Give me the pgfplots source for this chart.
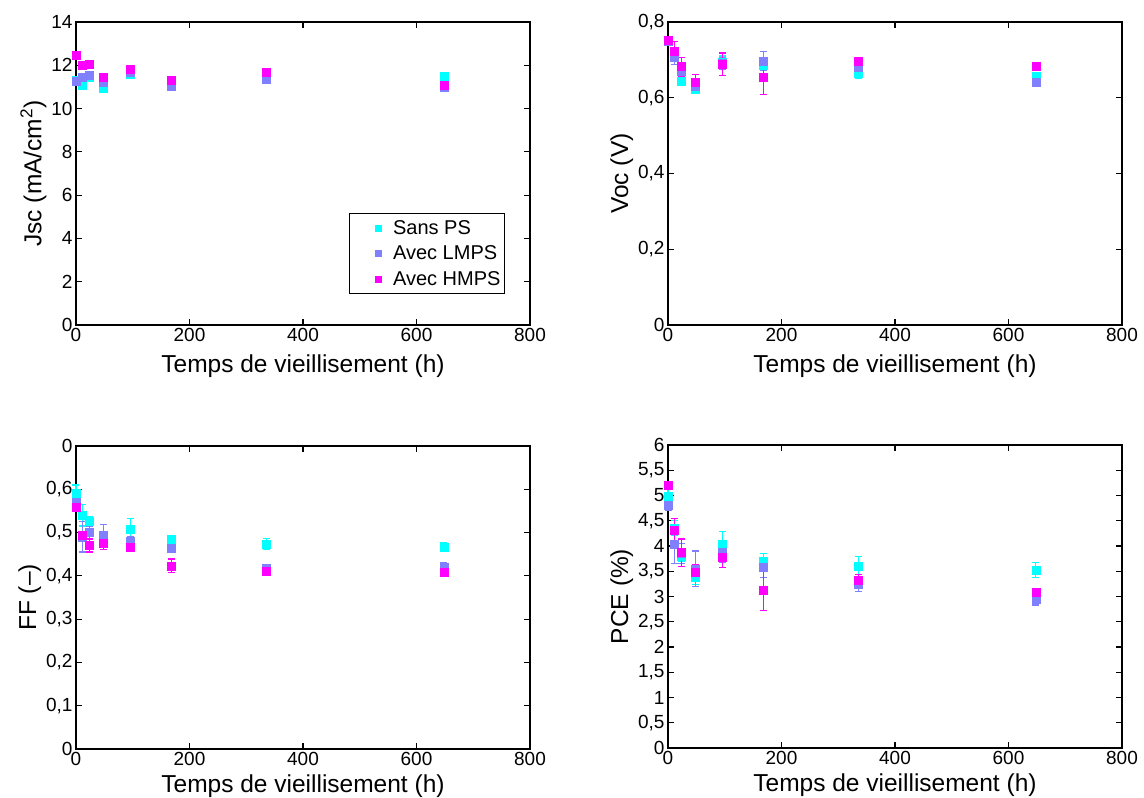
\documentclass[border=0pt]{standalone}
\usepackage{pgfplots}
\pgfplotsset{compat=1.18}
\usepackage{fontspec}
\setmainfont{Liberation Sans}
\definecolor{cSans}{rgb}{0,1,1}
\definecolor{cLMPS}{rgb}{0.5,0.5,1}
\definecolor{cHMPS}{rgb}{1,0,1}
\pgfplotsset{
  mystyle/.style={
    scale only axis, width=454pt, height=303pt,
    xmin=0, xmax=800, xtick={0,200,...,800},
    tick align=inside, major tick length=6pt,
    axis line style={line width=1.5pt},
    every tick/.style={line width=1.2pt, black},
    clip=false,
    tick label style={font=\fontsize{19}{19}\selectfont},
    label style={font=\fontsize{24.5}{24.5}\selectfont},
    /pgf/number format/use comma,
    /pgf/number format/assume math mode=true,
    xlabel={Temps de vieillisement (h)},
    xlabel style={yshift=-6pt},
    ylabel style={yshift=-2pt},
    every axis plot/.append style={only marks, mark=square*, mark size=4pt,
      legend image code/.code={\path[draw=none,fill=none] (-27pt,0) -- (13pt,0); \fill plot[mark size=3pt] coordinates {(0pt,0pt)};},
      error bars/y dir=both, error bars/y explicit,
      error bars/error bar style={line width=1.2pt},
      error bars/error mark options={mark size=3.5pt, line width=1.2pt, rotate=90}},
  },
  botstyle/.style={xlabel style={yshift=4.5pt}}
}
\begin{document}
\begin{tikzpicture}
\useasboundingbox (0,0) rectangle (1144pt,-798pt);
% Jsc
\begin{axis}[mystyle, at={(76pt,-22pt)}, anchor=north west,
  ymin=0, ymax=14, ytick={0,2,...,14},
  ylabel={Jsc (mA/cm\textsuperscript{2})},
  legend style={at={(0.945,0.37)}, anchor=north east, draw=black, line width=1pt,
    font=\fontsize{20}{20}\selectfont, row sep=6pt, inner xsep=2pt, inner ysep=5pt},
  legend cell align=left]
\addplot[color=cSans] table[y error=e]{
x y e
0 11.3 0.1
11 11.1 0.15
24 11.45 0.1
48 10.95 0.2
96 11.6 0.1
168 11.15 0.1
336 11.5 0.1
648 11.5 0.1
};
\addplot[color=cLMPS] table[y error=e]{
x y e
0 11.25 0.1
11 11.45 0.1
24 11.55 0.1
48 11.22 0.1
96 11.7 0.1
168 11.05 0.1
336 11.37 0.1
648 11.0 0.1
};
\addplot[color=cHMPS] table[y error=e]{
x y e
0 12.45 0.05
11 12.0 0.05
24 12.05 0.05
48 11.45 0.1
96 11.8 0.1
168 11.3 0.1
336 11.7 0.1
648 11.1 0.05
};
\legend{Sans PS, Avec LMPS, Avec HMPS}
\end{axis}
% Voc
\begin{axis}[mystyle, at={(668pt,-22pt)}, anchor=north west,
  ymin=0, ymax=0.8, ytick={0,0.2,...,0.8},
  yticklabel style={/pgf/number format/fixed},
  ylabel={Voc (V)}]
\addplot[color=cSans] table[y error=e]{
x y e
0 0.75 0.005
11 0.715 0.01
24 0.645 0.01
48 0.622 0.01
96 0.695 0.015
168 0.685 0.02
336 0.665 0.015
648 0.656 0.01
};
\addplot[color=cLMPS] table[y error=e]{
x y e
0 0.748 0.005
11 0.708 0.02
24 0.669 0.02
48 0.63 0.01
96 0.69 0.015
168 0.697 0.025
336 0.68 0.01
648 0.642 0.01
};
\addplot[color=cHMPS] table[y error=e]{
x y e
0 0.752 0.005
11 0.723 0.025
24 0.682 0.025
48 0.641 0.02
96 0.688 0.03
168 0.654 0.045
336 0.697 0.005
648 0.684 0.005
};
\end{axis}
% FF
\begin{axis}[mystyle, botstyle, at={(76pt,-446pt)}, anchor=north west,
  ymin=0, ymax=0.7, ytick={0,0.1,0.2,0.3,0.4,0.5,0.6,0.7},
  yticklabels={0,{0,1},{0,2},{0,3},{0,4},{0,5},{0,6},0},
  ylabel={FF (--)}]
\addplot[color=cSans] table[y error=e]{
x y e
0 0.59 0.02
11 0.54 0.025
24 0.526 0.012
48 0.487 0.012
96 0.508 0.025
168 0.485 0.005
336 0.474 0.012
648 0.467 0.01
};
\addplot[color=cLMPS] table[y error=e]{
x y e
0 0.57 0.015
11 0.49 0.035
24 0.50 0.015
48 0.493 0.025
96 0.48 0.01
168 0.464 0.01
336 0.418 0.008
648 0.42 0.01
};
\addplot[color=cHMPS] table[y error=e]{
x y e
0 0.559 0.01
11 0.493 0.01
24 0.470 0.015
48 0.476 0.015
96 0.466 0.01
168 0.423 0.016
336 0.41 0.005
648 0.408 0.005
};
\end{axis}
% PCE
\begin{axis}[mystyle, botstyle, at={(668pt,-445pt)}, anchor=north west,
  ymin=0, ymax=6, ytick={0,0.5,...,6},
  ylabel={PCE (\%)}]
\addplot[color=cSans] table[y error=e]{
x y e
0 4.99 0.2
11 4.36 0.15
24 3.80 0.1
48 3.38 0.15
96 4.03 0.25
168 3.70 0.15
336 3.6 0.2
648 3.53 0.15
};
\addplot[color=cLMPS] table[y error=e]{
x y e
0 4.81 0.1
11 4.03 0.38
24 3.85 0.2
48 3.55 0.35
96 3.88 0.2
168 3.58 0.2
336 3.25 0.15
648 2.95 0.12
};
\addplot[color=cHMPS] table[y error=e]{
x y e
0 5.21 0.05
11 4.31 0.23
24 3.87 0.27
48 3.48 0.15
96 3.78 0.2
168 3.12 0.4
336 3.33 0.1
648 3.09 0.05
};
\end{axis}
\end{tikzpicture}
\end{document}
